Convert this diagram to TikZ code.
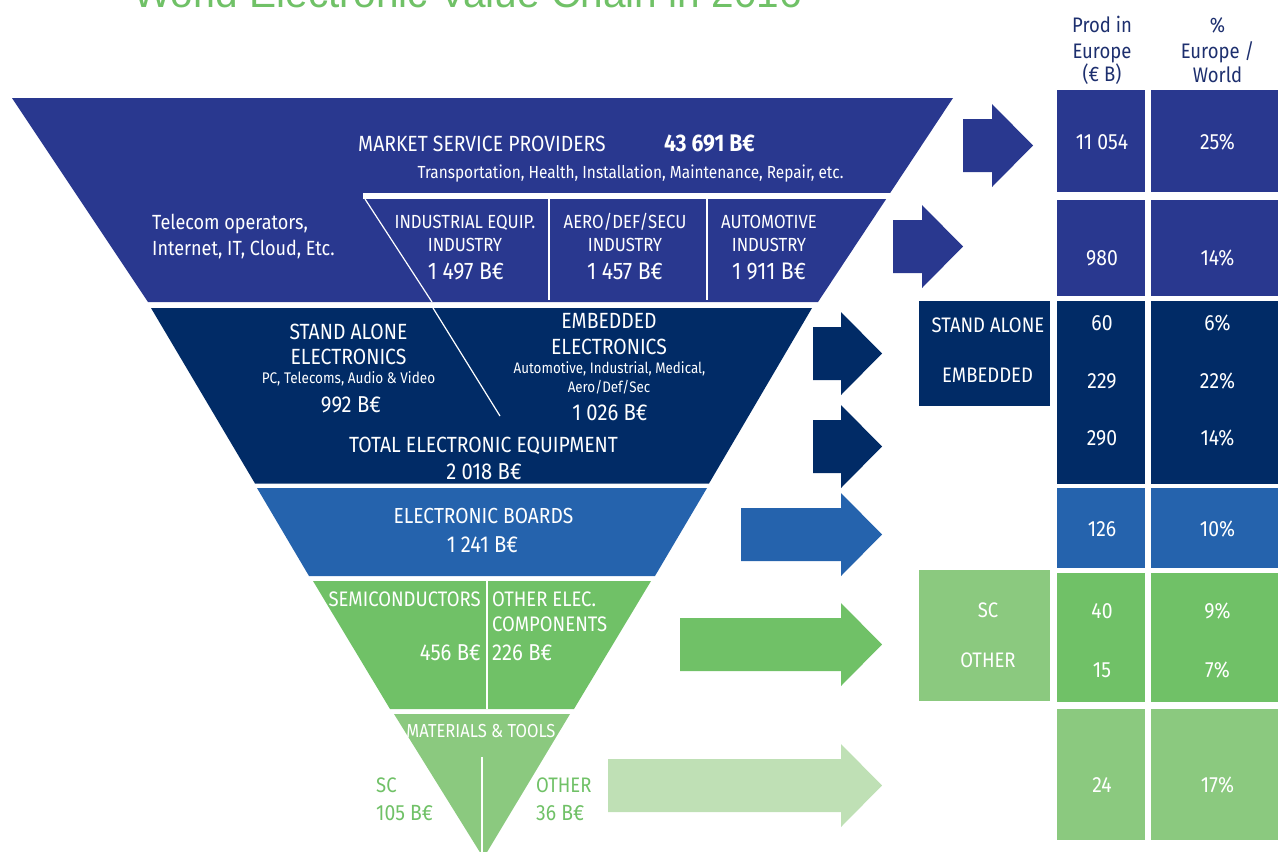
\documentclass[tikz,border=0pt]{standalone}
\usepackage{fontspec}
\setmainfont{Fira Sans}[FakeStretch=0.88]
\newfontfamily\titlefont{Liberation Sans}
\usepackage{tikz}

\definecolor{svcblue}{HTML}{29388F}
\definecolor{eqnavy}{HTML}{012B66}
\definecolor{boardblue}{HTML}{2563AD}
\definecolor{scgreen}{HTML}{70C167}
\definecolor{mtgreen}{HTML}{8BC97F}
\definecolor{palegreen}{HTML}{BFE0B5}
\definecolor{headnavy}{HTML}{1D2F6E}
\newcommand{\pxfont}[1]{\fontsize{#1}{#1}\selectfont}

\begin{document}
\begin{tikzpicture}[x=1pt,y=-1pt,
  txt/.style={text=white,inner sep=0pt,anchor=base},
  sep/.style={white,line width=1.2pt},
  head/.style={text=headnavy,inner sep=0pt,anchor=base,font=\pxfont{21}},
  num/.style={txt,font=\pxfont{22}}]
\useasboundingbox (0,0) rectangle (1278,852);
\clip (0,0) rectangle (1278,852);
%%
\node (title) at (133,7.5) [inner sep=0pt,anchor=base west,text=scgreen,font=\titlefont\fontsize{40.6}{44}\selectfont] {World Electronic Value Chain in 2016};
%% funnel bands
\fill[svcblue] (12,98) -- (953,98) -- (818,302) -- (148,302) -- cycle;
\fill[white] (363,193) rectangle (900,199);
\draw[sep] (365,199) -- (432,302);
\draw[sep] (549,199) -- (549,300);
\draw[sep] (707,199) -- (707,300);
\fill[eqnavy] (151,308) -- (812,308) -- (709,483.5) -- (255,483.5) -- cycle;
\draw[sep] (433,308) -- (500,416);
\fill[boardblue] (257,488) -- (707,488) -- (655,576) -- (309,576) -- cycle;
\fill[scgreen] (313,581) -- (651,581) -- (574,709) -- (390,709) -- cycle;
\draw[white,line width=2pt] (487,581) -- (487,709);
\fill[mtgreen] (394,714) -- (570,714) -- (483.5,858) -- cycle;
\draw[white,line width=2pt] (482,757) -- (482,860);
%% block arrows
\foreach \xa/\xb/\yc/\col in {963/1033/145.5/svcblue, 893/963/246.5/svcblue,
    813/882/353.5/eqnavy, 813/882/446.5/eqnavy, 741/882/534.5/boardblue,
    680/882/644.5/scgreen, 608/882/785.5/palegreen}
  \fill[\col] (\xa,\yc-26.5) -- (\xb-41,\yc-26.5) -- (\xb-41,\yc-41.5) -- (\xb,\yc)
    -- (\xb-41,\yc+41.5) -- (\xb-41,\yc+26.5) -- (\xa,\yc+26.5) -- cycle;
%% table cells
\fill[svcblue] (1057,90) rectangle (1145,192);
\fill[svcblue] (1151,90) rectangle (1290,192);
\fill[svcblue] (1057,200) rectangle (1145,296);
\fill[svcblue] (1151,200) rectangle (1290,296);
\fill[eqnavy] (919,301) rectangle (1050,406);
\fill[eqnavy] (1057,301) rectangle (1145,484);
\fill[eqnavy] (1151,301) rectangle (1290,484);
\fill[boardblue] (1057,488) rectangle (1145,568);
\fill[boardblue] (1151,488) rectangle (1290,568);
\fill[mtgreen] (919,570) rectangle (1050,701);
\fill[scgreen] (1057,573) rectangle (1145,702);
\fill[scgreen] (1151,573) rectangle (1290,702);
\fill[mtgreen] (1057,709) rectangle (1145,840);
\fill[mtgreen] (1151,709) rectangle (1290,840);
%%
\node (msp) at (482,151) [txt,font=\pxfont{22}] {MARKET SERVICE PROVIDERS};
\node (mspval) at (709.5,151) [txt,font=\pxfont{24}\bfseries] {43 691 B€};
\node (mspsub) at (630.5,178) [txt,font=\pxfont{17.5}] {Transportation, Health, Installation, Maintenance, Repair, etc.};
\node (telco) at (152,229) [txt,anchor=base west,font=\pxfont{20.5}] {Telecom operators,};
\node (telcob) at (152,255) [txt,anchor=base west,font=\pxfont{20.5}] {Internet, IT, Cloud, Etc.};
\node (indeq) at (465,228) [txt,font=\pxfont{19}] {INDUSTRIAL EQUIP.};
\node (indeqb) at (465,251) [txt,font=\pxfont{19}] {INDUSTRY};
\node (indeqv) at (466,279) [txt,font=\pxfont{24}] {1 497 B€};
\node (aero) at (625,228) [txt,font=\pxfont{19}] {AERO/DEF/SECU};
\node (aerob) at (625,251) [txt,font=\pxfont{19}] {INDUSTRY};
\node (aerov) at (625,279) [txt,font=\pxfont{24}] {1 457 B€};
\node (auto) at (769,228) [txt,font=\pxfont{19}] {AUTOMOTIVE};
\node (autob) at (769,251) [txt,font=\pxfont{19}] {INDUSTRY};
\node (autov) at (769,279) [txt,font=\pxfont{24}] {1 911 B€};
%%
\node (stand) at (348.5,339) [txt,font=\pxfont{22}] {STAND ALONE};
\node (standb) at (348.5,364) [txt,font=\pxfont{22}] {ELECTRONICS};
\node (standc) at (348.5,383) [txt,font=\pxfont{15.4}] {PC, Telecoms, Audio \& Video};
\node (standv) at (351,412) [txt,font=\pxfont{23}] {992 B€};
\node (embd) at (609,328) [txt,font=\pxfont{22}] {EMBEDDED};
\node (embdb) at (609,354) [txt,font=\pxfont{22}] {ELECTRONICS};
\node (embdc) at (609.5,373) [txt,font=\pxfont{15.2}] {Automotive, Industrial, Medical,};
\node (embdd) at (609,392) [txt,font=\pxfont{15.2}] {Aero/Def/Sec};
\node (embdv) at (610,420) [txt,font=\pxfont{23}] {1 026 B€};
\node (total) at (483.5,452) [txt,font=\pxfont{22}] {TOTAL ELECTRONIC EQUIPMENT};
\node (totalv) at (484,479) [txt,font=\pxfont{23}] {2 018 B€};
\node (board) at (483.5,523) [txt,font=\pxfont{21.8}] {ELECTRONIC BOARDS};
\node (boardv) at (482.5,552) [txt,font=\pxfont{23}] {1 241 B€};
\node (semi) at (481,606) [txt,anchor=base east,font=\pxfont{21}] {SEMICONDUCTORS};
\node (semiv) at (481,660) [txt,anchor=base east,font=\pxfont{23}] {456 B€};
\node (oth) at (492,606) [txt,anchor=base west,font=\pxfont{21}] {OTHER ELEC.};
\node (othb) at (492,631) [txt,anchor=base west,font=\pxfont{21}] {COMPONENTS};
\node (othv) at (492,660) [txt,anchor=base west,font=\pxfont{23}] {226 B€};
\node (mat) at (481,737) [txt,font=\pxfont{18.8}] {MATERIALS \& TOOLS};
\node (matsc) at (376,792) [txt,text=scgreen,anchor=base west,font=\pxfont{21}] {SC};
\node (matscv) at (376,820) [txt,text=scgreen,anchor=base west,font=\pxfont{22}] {105 B€};
\node (matot) at (536,792) [txt,text=scgreen,anchor=base west,font=\pxfont{21}] {OTHER};
\node (matotv) at (536,820) [txt,text=scgreen,anchor=base west,font=\pxfont{22}] {36 B€};
%% table
\node (hprod) at (1102,32) [head] {Prod in};
\node (hprodb) at (1102,58) [head] {Europe};
\node (hprodc) at (1102,81) [head] {(€ B)};
\node (hpct) at (1217.5,32) [head] {\%};
\node (hpctb) at (1217.5,58) [head] {Europe /};
\node (hpctc) at (1217.5,82) [head] {World};
\node (p1) at (1102,149) [num] {11 054};
\node (r1) at (1217.5,149) [num] {25\%};
\node (p2) at (1102,265) [num] {980};
\node (r2) at (1217.5,265) [num] {14\%};
\node (lstand) at (988,332) [txt,font=\pxfont{21}] {STAND ALONE};
\node (lembd) at (987.5,382) [txt,font=\pxfont{21}] {EMBEDDED};
\node (p3) at (1102,330) [num] {60};
\node (r3) at (1217.5,330) [num] {6\%};
\node (p4) at (1102,388) [num] {229};
\node (r4) at (1217.5,388) [num] {22\%};
\node (p5) at (1102,445) [num] {290};
\node (r5) at (1217.5,445) [num] {14\%};
\node (p6) at (1102,536) [num] {126};
\node (r6) at (1217.5,536) [num] {10\%};
\node (lsc) at (988,617) [txt,font=\pxfont{21}] {SC};
\node (loth) at (988,667) [txt,font=\pxfont{21}] {OTHER};
\node (p7) at (1102,618) [num] {40};
\node (r7) at (1217.5,618) [num] {9\%};
\node (p8) at (1102,677) [num] {15};
\node (r8) at (1217.5,677) [num] {7\%};
\node (p9) at (1102,792) [num] {24};
\node (r9) at (1217.5,792) [num] {17\%};
%
\end{tikzpicture}
\end{document}
